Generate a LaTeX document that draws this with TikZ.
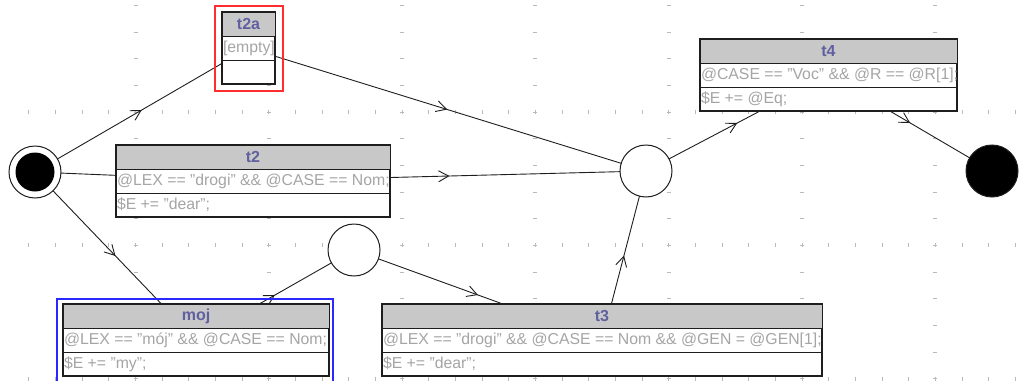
\documentclass[tikz,border=0pt]{standalone}
\usepackage{fontspec}
\setmainfont{Liberation Sans}
\usetikzlibrary{arrows.meta,decorations.markings}
\pgfdeclarelayer{grid}
\pgfdeclarelayer{edges}
\pgfsetlayers{grid,edges,main}
\definecolor{hdrfill}{RGB}{200,200,200}
\definecolor{hdrtext}{RGB}{96,96,160}
\definecolor{rowtext}{RGB}{165,165,165}
\definecolor{tickc}{RGB}{185,185,185}
\definecolor{linec}{RGB}{30,30,30}
\definecolor{selred}{RGB}{255,45,45}
\definecolor{selblue}{RGB}{40,40,255}
\tikzset{
  boxframe/.style={draw=linec, line width=1.2pt, fill=white, inner sep=0pt, outer sep=0pt},
  hdr/.style={draw=linec, line width=1pt, fill=hdrfill, minimum height=24pt, inner sep=0pt, outer sep=0pt, font=\fontsize{16}{18}\selectfont\bfseries, text=hdrtext},
  rowbox/.style={draw=linec, line width=1pt, minimum height=24pt, inner sep=0pt, outer sep=0pt, font=\fontsize{15.8}{18}\selectfont, text=rowtext},
  state/.style={circle, draw=linec, line width=1pt, fill=white, minimum size=52pt, inner sep=0pt},
  edge/.style={draw=linec, line width=0.9pt, postaction={decorate},
    decoration={markings, mark=at position 0.5 with {\arrow[linec, line width=0.9pt]{Straight Barb[length=10pt,width=11pt]}}}},
  tick/.style={draw=tickc, line width=0.8pt},
  sel/.style={line width=1.2pt},
}
\newcommand\transbox[7]{%
  \node[boxframe, minimum width=#4pt, minimum height=72pt, anchor=north west] (#1) at (#2,#3) {};
  \node[hdr, minimum width=#4pt, anchor=north west] (#1-h) at (#1.north west) {#5};
  \node[rowbox, minimum width=#4pt, anchor=north west] (#1-c) at (#1-h.south west) {\makebox[\dimexpr#4pt-2pt\relax][l]{#6}};
  \node[rowbox, minimum width=#4pt, anchor=north west] (#1-a) at (#1-c.south west) {\makebox[\dimexpr#4pt-2pt\relax][l]{#7}};
}
\begin{document}
\begin{tikzpicture}[x=1pt,y=-1pt]
\useasboundingbox (0,0) rectangle (1024,380);
% background grid ticks
\begin{pgfonlayer}{grid}
  \foreach \yy in {112,245.33,378.67}{
    \foreach \k in {1,...,38}{\draw[tick] (2.2+26.667*\k,\yy-2) -- ++(0,4);}}
  \foreach \xx in {0,...,6}{
    \foreach \k in {0,...,14}{\draw[tick] (135.5+133.33*\xx-2,5.3+26.667*\k) -- ++(4,0);}}
\end{pgfonlayer}
% states
\node[state] (start) at (35,172) {};
\node[circle, fill=black, minimum size=39pt, inner sep=0pt] (starti) at (start.center) {};
\node[state] (q1) at (646,171) {};
\node[state] (q2) at (354,250) {};
\node[state, fill=black] (end) at (992,171) {};
% transitions
\transbox{t2a}{222}{12}{53}{t2a}{[empty]}{}
\transbox{t2}{116}{145}{274}{t2}{@LEX == "drogi" \&\& @CASE == Nom;}{\$E += "dear";}
\transbox{t4}{700}{39}{257}{t4}{@CASE == "Voc" \&\& @R == @R[1];}{\$E += @Eq;}
\transbox{moj}{63}{304}{266}{moj}{@LEX == "mój" \&\& @CASE == Nom;}{\$E += "my";}
\transbox{t3}{382}{304}{440}{t3}{@LEX == "drogi" \&\& @CASE == Nom \&\& @GEN = @GEN[1];}{\$E += "dear";}
% selection frames
\draw[sel, draw=selred] (215,6) rectangle (283,91);
\draw[sel, draw=selblue] (57,384) -- (57,299) -- (333,299) -- (333,384);
% connectors
\begin{pgfonlayer}{edges}
  \draw[edge] (start.center) -- (t2a.center);
  \draw[edge] (t2a.center) -- (q1.center);
  \draw[edge] (start.center) -- (t2.center);
  \draw[edge] (t2.center) -- (q1.center);
  \draw[edge] (start.center) -- (moj.center);
  \draw[edge] (moj.center) -- (q2.center);
  \draw[edge] (q2.center) -- (t3.center);
  \draw[edge] (t3.center) -- (q1.center);
  \draw[edge] (q1.center) -- (t4.center);
  \draw[edge] (t4.center) -- (end.center);
\end{pgfonlayer}
\end{tikzpicture}
\end{document}
